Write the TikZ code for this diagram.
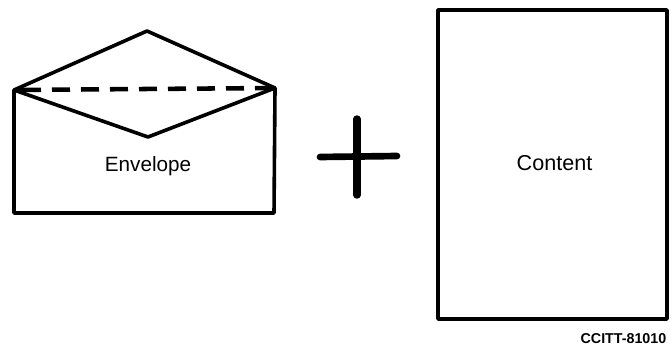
\documentclass[tikz,border=0pt]{standalone}
\usepackage{fontspec}
\setmainfont{Liberation Sans}
\tikzset{lineart/.style={draw=black,line width=2.7pt,line join=round}}
\begin{document}
\begin{tikzpicture}[x=1pt,y=-1pt,scale=0.75]
\useasboundingbox (0,0) rectangle (672,346);
\coordinate (tl) at (14,90);
\coordinate (tr) at (275,88);
\coordinate (bl) at (14,213);
\coordinate (br) at (274,213);
\coordinate (apex) at (147,31);
\coordinate (low) at (148,137);
\coordinate (tlb) at (26,90);
\coordinate (trb) at (262,88);
\draw[lineart] (tl) -- (bl) -- (br) -- (tr);
\draw[lineart] (tl) -- (apex) -- (tr) -- (low) -- cycle;
\draw[lineart,line width=3.4pt,dash pattern=on 13.5pt off 8.25pt,dash phase=15pt] (tl) -- (tr);
\draw[lineart,line width=3.4pt] (tl) -- (tlb);
\draw[lineart,line width=3.4pt] (tr) -- (trb);
\draw[draw=black,line width=5pt,line cap=round] (320,157) -- (397,156);
\draw[draw=black,line width=5.6pt,line cap=round] (357,119) -- (357,195);
\draw[lineart] (438,10) rectangle (667,319);
\node[font=\fontsize{15.5}{18}\selectfont] (env) at (148,166) {Envelope};
\node[font=\fontsize{16.2}{18}\selectfont] (con) at (554.5,163) {Content};
\node[font=\bfseries\fontsize{10.7}{12}\selectfont,anchor=east] (ref) at (671,339) {CCITT-81010};
\end{tikzpicture}
\end{document}
